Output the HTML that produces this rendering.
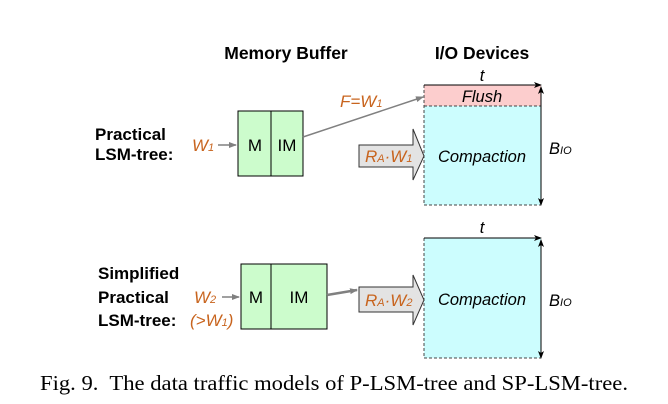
<!DOCTYPE html>
<html><head><style>
body{margin:0;background:#fff;width:668px;height:404px;overflow:hidden}
svg{display:block}
.b{font-family:"Liberation Sans",sans-serif;font-weight:bold;font-size:17px;fill:#000}
.h{font-family:"Liberation Sans",sans-serif;font-weight:bold;font-size:17.5px;fill:#000}
.o{font-family:"Liberation Sans",sans-serif;font-style:italic;font-size:17px;fill:#c8641e}
.n{font-family:"Liberation Sans",sans-serif;font-size:17px;fill:#000}
.i{font-family:"Liberation Sans",sans-serif;font-style:italic;font-size:16.5px;fill:#000}
</style></head><body>
<svg width="668" height="404" viewBox="0 0 668 404">
<defs>
<marker id="g" markerWidth="8" markerHeight="8" refX="7" refY="4" orient="auto" markerUnits="userSpaceOnUse"><path d="M0,1 L8,4 L0,7z" fill="#808080"/></marker>
<marker id="k" markerWidth="8" markerHeight="8" refX="7" refY="4" orient="auto-start-reverse" markerUnits="userSpaceOnUse"><path d="M0,1 L8,4 L0,7 L2,4z" fill="#000"/></marker>
</defs>
<text class="h" x="286" y="59" text-anchor="middle">Memory Buffer</text>
<text class="h" x="482" y="59" text-anchor="middle">I/O Devices</text>

<!-- top -->
<text class="i" x="482" y="81" text-anchor="middle">t</text>
<rect x="424" y="85" width="117" height="21" fill="#fccdcd"/>
<rect x="424" y="106" width="117" height="99" fill="#ccfdfe"/>
<path d="M424,106 H541 M424,85 V205 H541" stroke="#444" stroke-dasharray="3,2" fill="none"/>
<line x1="424" y1="85" x2="541" y2="85" stroke="#000" marker-end="url(#k)"/>
<line x1="541" y1="87" x2="541" y2="205" stroke="#000" marker-end="url(#k)" marker-start="url(#k)"/>
<text class="i" x="482" y="102" text-anchor="middle">Flush</text>
<text class="i" x="482" y="162" text-anchor="middle">Compaction</text>
<text class="i" x="549" y="154" font-size="17">B<tspan font-size="11">IO</tspan></text>
<rect x="238" y="111" width="65" height="65" fill="#ccfccc" stroke="#000"/>
<line x1="271" y1="111" x2="271" y2="176" stroke="#000"/>
<text class="n" x="255" y="151" text-anchor="middle">M</text>
<text class="n" x="287" y="151" text-anchor="middle">IM</text>
<text class="b" x="95" y="140">Practical</text>
<text class="b" x="95" y="160">LSM-tree:</text>
<text class="o" x="192" y="151">W<tspan font-size="11">1</tspan></text>
<line x1="218" y1="145" x2="236" y2="145" stroke="#808080" stroke-width="1.5" marker-end="url(#g)"/>
<line x1="303" y1="137" x2="423" y2="97" stroke="#808080" stroke-width="1.5" marker-end="url(#g)"/>
<text class="o" x="340" y="107">F=W<tspan font-size="11">1</tspan></text>
<path d="M359,145 H413 V129 L424,156 L413,180 V167 H359z" fill="#e3e3e3" stroke="#333"/>
<text class="o" x="365" y="162">R<tspan font-size="11">A</tspan>·W<tspan font-size="11">1</tspan></text>

<!-- bottom -->
<text class="i" x="482" y="233" text-anchor="middle">t</text>
<rect x="424" y="238" width="117" height="120" fill="#ccfdfe"/>
<path d="M424,238 V358 H541" stroke="#444" stroke-dasharray="3,2" fill="none"/>
<line x1="424" y1="238" x2="541" y2="238" stroke="#000" marker-end="url(#k)"/>
<line x1="541" y1="240" x2="541" y2="358" stroke="#000" marker-end="url(#k)" marker-start="url(#k)"/>
<text class="i" x="482" y="305" text-anchor="middle">Compaction</text>
<text class="i" x="549" y="306" font-size="17">B<tspan font-size="11">IO</tspan></text>
<rect x="241" y="264" width="86" height="65" fill="#ccfccc" stroke="#000"/>
<line x1="271" y1="264" x2="271" y2="329" stroke="#000"/>
<text class="n" x="256" y="303" text-anchor="middle">M</text>
<text class="n" x="299" y="303" text-anchor="middle">IM</text>
<text class="b" x="98" y="279">Simplified</text>
<text class="b" x="98" y="303">Practical</text>
<text class="b" x="98" y="326">LSM-tree:</text>
<text class="o" x="194" y="303">W<tspan font-size="11">2</tspan></text>
<text class="o" x="190" y="326">(&gt;W<tspan font-size="11">1</tspan>)</text>
<line x1="222" y1="297" x2="239" y2="297" stroke="#808080" stroke-width="1.5" marker-end="url(#g)"/>
<line x1="327" y1="295" x2="357" y2="290" stroke="#808080" stroke-width="2.5" marker-end="url(#g)"/>
<path d="M359,287 H413 V275 L424,300 L413,325 V312 H359z" fill="#e3e3e3" stroke="#333"/>
<text class="o" x="365" y="306">R<tspan font-size="11">A</tspan>·W<tspan font-size="11">2</tspan></text>

<text x="40" y="390" textLength="588" lengthAdjust="spacingAndGlyphs" font-family="Liberation Serif,serif" font-size="21.5" fill="#000" xml:space="preserve">Fig. 9.  The data traffic models of P-LSM-tree and SP-LSM-tree.</text>
</svg>
</body></html>
